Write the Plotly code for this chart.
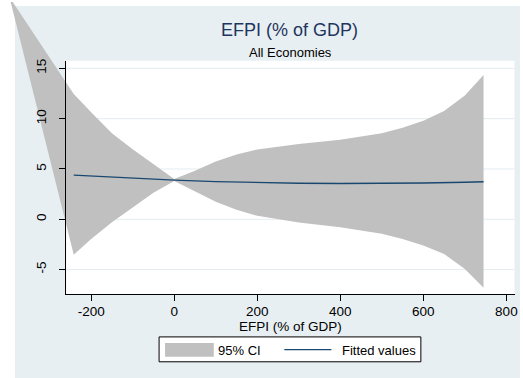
import plotly.graph_objects as go

# Figure size in pixels
W, H = 523, 378

# Fitted values (quadratic fit of EFPI)
fit_x = [-242, -200, -150, -100, -50, 0, 100, 200, 300, 400, 500, 600, 700, 745]
fit_y = [4.39, 4.30, 4.20, 4.10, 3.99, 3.89, 3.74, 3.64, 3.58, 3.55, 3.55, 3.60, 3.68, 3.73]

# 95% confidence band (first point is where the band edges meet on the far left)
ci_x = [-397, -242, -200, -150, -100, -50, 0, 50, 100, 150, 200, 300, 400, 500, 550, 600, 650, 700, 745]
ci_upper = [22.1, 12.45, 10.63, 8.54, 6.97, 5.47, 4.0, 4.81, 5.74, 6.44, 6.94, 7.48, 7.90, 8.55, 9.10, 9.80,
            10.75, 12.30, 14.35]
ci_lower = [22.1, -3.52, -1.95, -0.30, 1.17, 2.63, 3.8, 2.81, 1.74, 0.94, 0.34, -0.32, -0.80, -1.45, -1.95,
            -2.60, -3.45, -4.95, -6.80]

x_ticks = [-200, 0, 200, 400, 600, 800]
x_tick_labels = ["-200", "0", "200", "400", "600", "800"]
y_ticks = [-5, 0, 5, 10, 15]
y_tick_labels = ["-5", "0", "5", "10", "15"]

TITLE = "EFPI (% of GDP)"
SUBTITLE = "All Economies"
X_TITLE = "EFPI (% of GDP)"

# Styling
BG = "#e8eff2"
GRID = "#e3ecef"
BAND = "#c0c0c0"
NAVY = "#1a476f"
TITLE_COLOR = "#1e3560"
FONT = "Liberation Sans, Arial, sans-serif"

# Plot-region frame (pixels) and axis scale anchors
PL, PR, PT, PB = 66.7, 517.5, 59.0, 294.0
XA_PX, XA_V, XB_PX, XB_V = 91.7, -200.0, 509.3, 800.0
YA_PX, YA_V, YB_PX, YB_V = 66.7, 15.0, 269.0, -5.0


def xval(px):
    return XA_V + (px - XA_PX) * (XB_V - XA_V) / (XB_PX - XA_PX)


def yval(py):
    return YA_V + (py - YA_PX) * (YB_V - YA_V) / (YB_PX - YA_PX)


def fx(px):
    return px / W


def fy(py):
    return 1 - py / H


inner_x = [xval(PL), xval(PR)]
inner_y = [yval(PB), yval(PT)]
outer_x = [xval(0), xval(W)]
outer_y = [yval(H), yval(0)]

fig = go.Figure()

# Confidence band, drawn on a full-figure subplot so it is not clipped to the plot region
band_x = ci_x + ci_x[::-1]
band_y = ci_upper + ci_lower[::-1]
fig.add_trace(go.Scatter(
    x=band_x, y=band_y, mode="lines", fill="toself",
    fillcolor=BAND, line=dict(width=0, color=BAND),
    name="95% CI", showlegend=False, hoverinfo="skip",
    xaxis="x", yaxis="y",
))
fig.add_trace(go.Scatter(
    x=fit_x, y=fit_y, mode="lines",
    line=dict(color=NAVY, width=1.4),
    name="Fitted values", showlegend=False,
    xaxis="x", yaxis="y",
))
# Anchor trace for the decorated axes
fig.add_trace(go.Scatter(x=[], y=[], xaxis="x2", yaxis="y2", showlegend=False))

shapes = [
    # graph region background
    dict(type="rect", xref="paper", yref="paper", x0=fx(15), x1=1, y0=0, y1=fy(4),
         fillcolor=BG, line=dict(width=0), layer="below"),
    # white plot region
    dict(type="rect", xref="paper", yref="paper", x0=fx(PL), x1=fx(PR), y0=fy(PB), y1=fy(PT),
         fillcolor="white", line=dict(width=0), layer="below"),
]
# horizontal gridlines under the band
for v in y_ticks:
    shapes.append(dict(type="line", xref="x", yref="y", x0=inner_x[0], x1=inner_x[1], y0=v, y1=v,
                       line=dict(color=GRID, width=1), layer="below"))

# legend box
LG_L, LG_R, LG_T, LG_B = 160, 423.3, 336.7, 361.7
shapes += [
    dict(type="rect", xref="paper", yref="paper", x0=fx(LG_L), x1=fx(LG_R), y0=fy(LG_B), y1=fy(LG_T),
         fillcolor="white", line=dict(color="black", width=1), layer="above"),
    dict(type="rect", xref="paper", yref="paper", x0=fx(166), x1=fx(215), y0=fy(356.7), y1=fy(342.7),
         fillcolor=BAND, line=dict(width=0), layer="above"),
    dict(type="line", xref="paper", yref="paper", x0=fx(286), x1=fx(333.3), y0=fy(349.5), y1=fy(349.5),
         line=dict(color=NAVY, width=1.4), layer="above"),
]

annotations = [
    dict(text=TITLE, xref="paper", yref="paper", x=fx(291.5), y=fy(28.5), xanchor="center", yanchor="middle",
         showarrow=False, font=dict(family=FONT, size=18, color=TITLE_COLOR)),
    dict(text=SUBTITLE, xref="paper", yref="paper", x=fx(291.7), y=fy(50.5), xanchor="center", yanchor="middle",
         showarrow=False, font=dict(family=FONT, size=13, color="black")),
    dict(text=X_TITLE, xref="paper", yref="paper", x=fx((PL + PR) / 2), y=fy(326), xanchor="center",
         yanchor="middle", showarrow=False, font=dict(family=FONT, size=13.5, color="black")),
    dict(text="95% CI", xref="paper", yref="paper", x=fx(217.3), y=fy(350), xanchor="left", yanchor="middle",
         showarrow=False, font=dict(family=FONT, size=13, color="black")),
    dict(text="Fitted values", xref="paper", yref="paper", x=fx(341.7), y=fy(350), xanchor="left",
         yanchor="middle", showarrow=False, font=dict(family=FONT, size=13, color="black")),
]

axis_common = dict(showline=True, linecolor="black", linewidth=1, ticks="outside", ticklen=6,
                   tickwidth=1, tickcolor="black", showgrid=False, zeroline=False,
                   tickfont=dict(family=FONT, size=13.5, color="black"), fixedrange=True)

fig.update_layout(
    width=W, height=H, autosize=False,
    margin=dict(l=0, r=0, t=0, b=0, pad=0),
    paper_bgcolor="white", plot_bgcolor="rgba(0,0,0,0)",
    showlegend=False,
    xaxis=dict(domain=[0, 1], range=outer_x, visible=False, fixedrange=True),
    yaxis=dict(domain=[0, 1], range=outer_y, visible=False, fixedrange=True),
    xaxis2=dict(domain=[fx(PL), fx(PR)], range=inner_x, anchor="y2", tickvals=x_ticks,
                ticktext=x_tick_labels, ticklabelstandoff=-2, **axis_common),
    yaxis2=dict(domain=[fy(PB), fy(PT)], range=inner_y, anchor="x2", tickvals=y_ticks,
                ticktext=y_tick_labels, tickangle=-90, ticklabelstandoff=8, **axis_common),
    shapes=shapes,
    annotations=annotations,
    font=dict(family=FONT),
)

fig.write_html("out.html")
